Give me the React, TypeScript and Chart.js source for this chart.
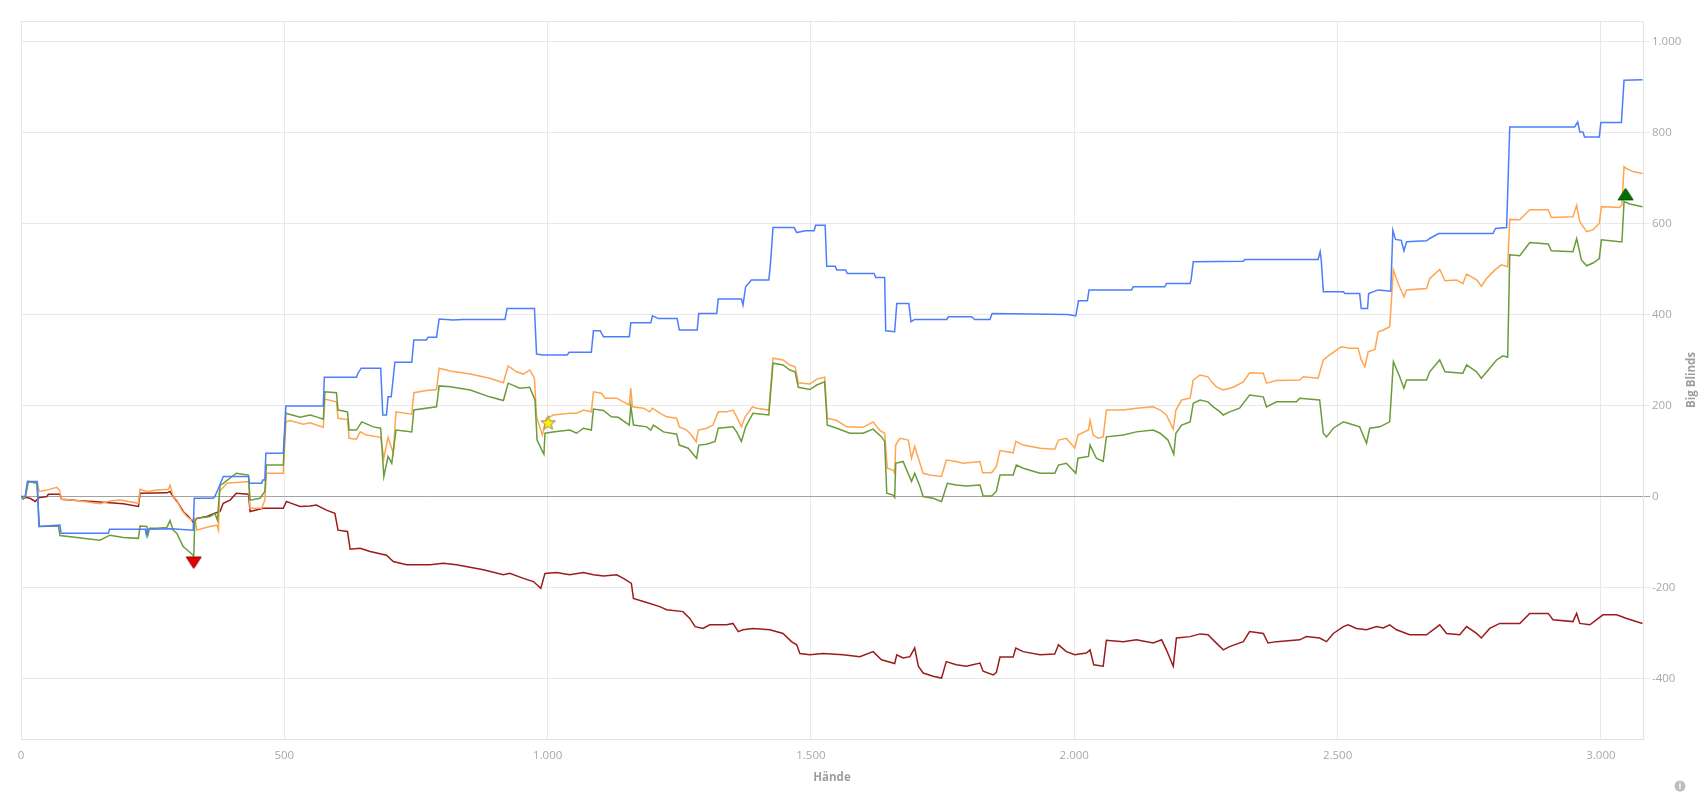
import React, { useEffect, useRef } from 'react';
import { Chart, registerables } from 'chart.js';

Chart.register(...registerables);

type P = [number, number];

const xTicks = [0, 500, 1000, 1500, 2000, 2500, 3000];
const yTicks = [-400, -200, 0, 200, 400, 600, 800, 1000];
const xMin = 0, xMax = 3080, yMin = -533, yMax = 1045;
const xTitle = 'Hände';
const yTitle = 'Big Blinds';

const blueSeries: P[] = [
  [0,0],[8,0],[12,33],[31,33],[34,-66],[74,-63],[76,-81],[166,-81],[168,-72],[236,-72],[238,-84],[240,-72],[286,-71],[327,-74],[329,-4],[365,-4],[368,0],[375,18],[384,44],[432,44],[434,29],[457,29],[459,36],[463,36],[465,95],[498,95],[503,199],
  [574,199],[576,262],[637,262],[640,271],[646,282],[683,282],[687,179],[694,179],[697,219],[703,219],[710,295],[742,295],[746,344],[770,344],[773,350],[789,350],[794,390],[820,388],[840,389],[919,389],[923,413],[975,413],[979,313],[990,311],[1037,311],[1041,317],
  [1083,317],[1087,364],[1100,364],[1106,351],[1155,351],[1158,382],[1196,382],[1199,397],[1210,391],[1246,391],[1250,366],[1284,366],[1287,402],[1321,402],[1324,434],[1368,434],[1371,421],[1376,461],[1387,476],[1420,476],[1423,509],[1428,591],[1468,591],[1473,580],[1489,584],[1506,584],[1509,596],[1527,596],[1530,506],[1546,506],[1549,498],[1566,498],[1569,490],[1620,490],[1623,481],[1640,481],[1642,364],[1659,362],[1663,424],
  [1686,424],[1690,384],[1697,389],[1758,389],[1761,395],[1805,395],[1811,389],[1840,389],[1844,402],[1988,400],[2003,397],[2008,430],[2025,430],[2028,454],[2109,454],[2112,461],[2172,461],[2175,468],[2220,468],[2222,477],[2226,516],[2321,517],
  [2324,521],[2463,521],[2467,538],[2469,520],[2473,450],[2511,450],[2514,446],[2542,446],[2545,413],[2557,413],[2559,446],[2577,454],[2601,451],[2605,585],[2610,565],[2621,563],[2626,540],[2631,560],[2669,562],[2675,567],[2692,578],[2795,578],[2800,589],[2821,591],[2827,812],[2950,812],[2956,823],[2960,801],[2966,801],[2969,790],[2997,790],[3000,822],[3039,822],[3044,915],[3079,916],
];

const orangeSeries: P[] = [
  [0,0],[8,-4],[14,33],[30,30],[35,11],[49,14],[68,20],[73,14],[77,-6],[106,-9],[137,-14],[150,-16],[169,-10],[188,-8],[223,-15],[226,16],[239,11],[258,14],[280,16],[283,25],[289,0],[296,-8],[305,-30],[315,-44],[324,-52],[330,-48],[334,-74],[346,-70],[359,-66],[372,-63],[375,-74],[377,11],[391,29],[432,33],[435,-26],[457,-26],[463,-8],[466,51],[498,51],[503,164],
  [511,167],[536,159],[549,162],[561,157],[574,152],[577,214],[599,208],[602,172],[620,169],[623,128],[637,126],[644,142],[656,135],[683,130],[689,84],[697,130],[707,95],[712,186],[742,181],[746,228],[770,233],[789,235],[794,282],[815,276],[853,269],[890,260],[916,250],[925,287],[941,274],[954,269],[966,278],[975,260],[979,175],[987,146],[990,135],[998,172],[1011,179],[1042,183],
  [1055,183],[1068,190],[1083,186],[1087,230],[1102,227],[1109,216],[1131,216],[1144,208],[1155,201],[1158,238],[1161,197],[1182,194],[1194,186],[1199,194],[1213,183],[1226,175],[1245,172],[1250,153],[1264,146],[1273,135],[1282,120],[1286,146],[1302,150],[1314,157],[1324,186],[1340,186],[1352,190],[1359,175],[1368,153],[1375,175],[1389,197],[1397,194],[1420,190],[1428,304],[1447,300],[1460,289],[1470,285],[1476,250],[1498,247],[1511,258],[1526,262],[1531,172],[1549,167],[1568,153],[1599,152],[1618,164],[1631,145],[1640,139],[1645,62],[1656,58],[1659,51],
  [1661,113],[1669,128],[1685,124],[1691,84],[1697,110],[1707,73],[1713,51],[1726,47],[1748,44],[1757,80],[1776,77],[1789,73],[1821,77],[1826,52],[1843,52],[1852,66],[1859,101],[1884,96],[1889,121],[1903,113],[1935,106],[1963,104],[1970,124],[1985,128],[2001,106],[2007,135],[2027,146],[2030,168],[2036,135],[2045,128],[2055,131],[2061,190],[2093,190],[2118,194],[2150,197],[2163,190],[2175,179],[2188,148],[2193,190],[2204,212],[2220,216],[2226,256],[2239,267],[2254,263],[2261,252],
  [2270,241],[2283,234],[2302,240],[2321,252],[2333,272],[2359,271],[2365,249],[2384,255],[2428,256],[2435,263],[2463,260],[2473,300],[2485,311],[2507,329],[2523,326],[2539,326],[2545,300],[2552,285],[2558,318],[2571,323],[2577,362],[2587,366],[2599,373],[2606,498],[2615,468],[2626,439],[2631,454],[2669,457],[2675,479],[2694,499],[2704,474],[2726,476],[2738,468],[2745,489],[2764,476],[2773,462],[2783,479],[2799,498],[2811,509],[2823,505],[2827,609],[2846,608],[2865,630],[2900,630],[2906,613],[2947,615],[2954,640],[2960,604],[2973,582],[2985,586],[2997,600],[3001,637],[3036,635],[3040,641],[3044,725],[3048,721],[3061,714],[3079,710],
];

const greenSeries: P[] = [
  [0,0],[4,-6],[8,-2],[14,33],[30,29],[35,-66],[71,-65],[74,-86],[106,-90],[150,-96],[169,-85],[194,-90],[223,-92],[226,-65],[239,-66],[241,-85],[244,-70],[258,-70],[277,-68],[283,-53],[289,-74],[296,-81],[302,-96],[308,-110],[321,-123],[326,-128],[328,-132],[330,-55],[334,-48],[359,-44],[368,-37],[373,-52],[378,25],[384,29],[409,51],[432,47],[435,-8],[454,-4],[463,11],[466,69],[498,69],[503,183],[530,174],
  [549,179],[561,175],[574,170],[577,230],[599,228],[602,190],[620,186],[623,146],[637,146],[647,164],[669,153],[683,150],[689,44],[697,88],[704,73],[712,146],[742,142],[746,190],[789,197],[794,243],[815,241],[853,234],[890,219],[916,211],[925,249],[947,238],[966,240],[976,212],[980,124],[989,102],[993,93],[995,139],[1017,143],[1042,146],
  [1055,139],[1068,150],[1083,146],[1087,192],[1106,189],[1121,175],[1134,174],[1150,161],[1155,157],[1158,199],[1163,157],[1188,153],[1196,146],[1201,157],[1220,142],[1245,137],[1250,113],[1267,106],[1280,88],[1283,84],[1287,113],[1302,115],[1318,121],[1324,150],[1352,153],[1359,142],[1368,121],[1376,153],[1390,183],[1420,179],[1428,293],[1447,289],[1460,278],[1470,274],[1476,240],[1498,235],[1511,245],[1526,252],[1531,157],[1549,150],[1574,139],[1599,139],[1618,148],[1634,131],[1640,121],[1644,7],[1656,3],[1659,-2],
  [1661,73],[1675,77],[1691,33],[1697,51],[1707,22],[1713,0],[1732,-4],[1748,-11],[1759,29],[1776,25],[1795,23],[1821,25],[1827,1],[1843,1],[1852,11],[1859,47],[1884,47],[1890,69],[1903,62],[1935,51],[1963,51],[1970,69],[1985,73],[2003,51],[2007,84],[2027,88],[2030,113],[2042,84],[2055,77],[2061,131],[2093,135],[2118,142],[2150,146],[2163,139],[2178,124],[2189,93],[2193,139],[2204,157],[2220,164],[2226,205],[2239,212],[2254,208],[2264,197],[2277,186],
  [2283,179],[2295,186],[2314,194],[2333,223],[2359,219],[2365,197],[2384,208],[2422,208],[2428,216],[2466,212],[2473,139],[2479,131],[2492,150],[2511,164],[2520,161],[2542,153],[2555,117],[2561,150],[2580,153],[2599,164],[2606,296],[2618,263],[2626,238],[2631,256],[2669,256],[2675,274],[2694,300],[2704,274],[2726,272],[2738,271],[2745,289],[2764,274],[2773,260],[2789,282],[2802,300],[2814,309],[2823,306],[2827,531],[2846,529],[2859,549],[2865,558],[2900,555],[2906,540],[2947,538],[2954,567],[2963,520],[2973,507],[2985,513],[2997,523],[3001,564],[3036,560],[3040,560],[3044,648],[3055,643],[3079,637],
];

const redSeries: P[] = [
  [0,0],[17,-4],[27,-11],[33,-3],[49,0],[52,5],[74,5],[77,-6],[106,-9],[137,-11],[169,-14],[194,-16],[223,-22],[226,7],[277,8],[283,11],[289,0],[299,-15],[308,-33],[318,-44],[324,-52],[327,-57],[334,-48],[353,-44],[368,-37],[378,-33],[384,-15],[397,-8],[409,7],[432,5],[435,-33],[460,-26],[498,-26],[504,-11],
  [511,-14],[530,-22],[549,-21],[561,-19],[580,-30],[596,-37],[602,-74],[620,-77],[625,-116],[644,-114],[663,-121],[694,-129],[707,-143],[732,-150],[777,-150],[802,-147],[827,-150],[878,-161],[916,-172],[928,-169],[954,-180],[973,-187],[987,-202],[995,-169],[1017,-167],[1042,-172],
  [1068,-167],[1087,-172],[1106,-175],[1131,-172],[1144,-180],[1159,-191],[1163,-224],[1188,-233],[1213,-242],[1226,-249],[1257,-253],[1270,-268],[1280,-286],[1295,-290],[1308,-282],[1340,-282],[1352,-279],[1362,-297],[1371,-293],[1390,-290],[1422,-293],[1447,-301],[1463,-319],[1473,-326],[1479,-345],[1498,-348],[1523,-345],[1561,-348],[1593,-352],[1618,-341],[1634,-359],[1659,-367],
  [1663,-348],[1675,-355],[1688,-352],[1697,-333],[1704,-373],[1713,-388],[1732,-395],[1748,-399],[1757,-363],[1776,-370],[1795,-373],[1821,-366],[1827,-384],[1846,-392],[1852,-387],[1859,-353],[1884,-353],[1889,-333],[1903,-341],[1935,-348],[1963,-346],[1970,-326],[1985,-341],[2001,-348],[2023,-344],[2030,-337],[2037,-370],[2055,-373],[2061,-316],[2093,-319],[2118,-315],[2150,-322],[2166,-315],[2175,-337],[2188,-373],[2194,-311],[2220,-308],[2239,-302],[2254,-304],[2267,-319],
  [2283,-337],[2295,-330],[2321,-319],[2333,-297],[2359,-301],[2368,-322],[2384,-319],[2428,-315],[2441,-308],[2466,-311],[2479,-319],[2492,-301],[2511,-286],[2520,-282],[2536,-290],[2555,-293],[2574,-286],[2587,-289],[2599,-282],[2612,-293],[2637,-304],[2669,-304],[2694,-282],[2707,-301],[2732,-304],[2745,-286],[2764,-301],[2773,-311],[2789,-290],[2808,-279],[2846,-279],[2865,-257],[2900,-257],[2909,-271],[2947,-275],[2954,-257],[2960,-279],[2979,-282],[3004,-260],[3030,-260],[3049,-268],[3079,-279],
];

const lowMarker: P[] = [[328, -145]];
const starMarker: P[] = [[1001, 162]];
const highMarker: P[] = [[3047, 664]];

const toXY = (arr: P[]) => arr.map(([x, y]) => ({ x, y }));

function fmt(v: number): string {
  const neg = v < 0;
  const s = String(Math.abs(Math.round(v)));
  const out = s.replace(/\B(?=(\d{3})+(?!\d))/g, '.');
  return (neg ? '-' : '') + out;
}

function makeTriangle(fill: string, stroke: string, down: boolean): HTMLCanvasElement {
  const c = document.createElement('canvas');
  c.width = 17;
  c.height = 14;
  const g = c.getContext('2d')!;
  g.beginPath();
  if (down) {
    g.moveTo(1, 1.5); g.lineTo(16, 1.5); g.lineTo(8.5, 13);
  } else {
    g.moveTo(1, 12.5); g.lineTo(16, 12.5); g.lineTo(8.5, 1);
  }
  g.closePath();
  g.fillStyle = fill;
  g.fill();
  g.lineWidth = 1;
  g.strokeStyle = stroke;
  g.stroke();
  return c;
}

function makeStar(): HTMLCanvasElement {
  const c = document.createElement('canvas');
  c.width = 17;
  c.height = 17;
  const g = c.getContext('2d')!;
  const cx = 8.5, cy = 9, R = 7.5, r = 3.2;
  g.beginPath();
  for (let i = 0; i < 10; i++) {
    const a = -Math.PI / 2 + (i * Math.PI) / 5;
    const rad = i % 2 === 0 ? R : r;
    const px = cx + rad * Math.cos(a);
    const py = cy + rad * Math.sin(a);
    if (i === 0) g.moveTo(px, py); else g.lineTo(px, py);
  }
  g.closePath();
  g.fillStyle = '#fff200';
  g.fill();
  g.lineWidth = 1;
  g.strokeStyle = '#8a8a60';
  g.stroke();
  return c;
}

const FONT = '"Open Sans", "Noto Sans", sans-serif';

const decorPlugin = {
  id: 'decor',
  beforeDatasetsDraw(chart: any) {
    const { ctx, chartArea } = chart;
    const { left, top, right, bottom } = chartArea;
    ctx.save();
    ctx.strokeStyle = '#e6e6e6';
    ctx.lineWidth = 1;
    ctx.beginPath();
    ctx.moveTo(Math.round(left) + 0.5, Math.round(bottom));
    ctx.lineTo(Math.round(left) + 0.5, Math.round(top) + 0.5);
    ctx.lineTo(Math.round(right), Math.round(top) + 0.5);
    ctx.stroke();
    ctx.restore();
  },
  afterDraw(chart: any) {
    const { ctx, chartArea } = chart;
    const { left, top, right, bottom } = chartArea;
    ctx.save();
    ctx.fillStyle = '#9e9e9e';
    ctx.font = `bold 11.5px ${FONT}`;
    ctx.textAlign = 'center';
    ctx.textBaseline = 'middle';
    ctx.fillText(xTitle, (left + right) / 2, 778);
    ctx.translate(1692, (top + bottom) / 2);
    ctx.rotate(-Math.PI / 2);
    ctx.fillText(yTitle, 0, 0);
    ctx.restore();
    // info icon
    ctx.save();
    ctx.beginPath();
    ctx.arc(1680, 786, 5.5, 0, Math.PI * 2);
    ctx.fillStyle = '#bdbdbd';
    ctx.fill();
    ctx.fillStyle = '#ffffff';
    ctx.font = `bold 8px ${FONT}`;
    ctx.textAlign = 'center';
    ctx.textBaseline = 'middle';
    ctx.fillText('i', 1680, 786.5);
    ctx.restore();
  },
};

export default function App() {
  const ref = useRef<HTMLCanvasElement | null>(null);

  useEffect(() => {
    if (!ref.current) return;
    const redTri = makeTriangle('#e00000', '#a00000', true);
    const greenTri = makeTriangle('#007000', '#004d00', false);
    const star = makeStar();

    const lineDs = (label: string, data: P[], color: string, order: number) => ({
      label,
      data: toXY(data),
      borderColor: color,
      backgroundColor: color,
      borderWidth: 1.5,
      pointRadius: 0,
      pointHoverRadius: 0,
      tension: 0,
      fill: false,
      order,
    });
    const markerDs = (label: string, data: P[], img: HTMLCanvasElement) => ({
      label,
      data: toXY(data),
      showLine: false,
      pointStyle: img,
      pointRadius: 8,
      pointHoverRadius: 8,
      order: 0,
    });

    const chart = new Chart(ref.current, {
      type: 'line',
      data: {
        datasets: [
          markerDs('low', lowMarker, redTri),
          markerDs('star', starMarker, star),
          markerDs('high', highMarker, greenTri),
          lineDs('blue', blueSeries, '#4d7cff', 1),
          lineDs('green', greenSeries, '#6a9c3a', 2),
          lineDs('orange', orangeSeries, '#ffa54f', 3),
          lineDs('red', redSeries, '#9b1c1c', 4),
        ] as any,
      },
      options: {
        animation: false,
        responsive: false,
        devicePixelRatio: 1,
        layout: { padding: { left: 21, top: 21, right: 0, bottom: 0 } },
        plugins: {
          legend: { display: false },
          tooltip: { enabled: false },
        },
        events: [],
        scales: {
          x: {
            type: 'linear',
            min: xMin,
            max: xMax,
            afterBuildTicks: (s: any) => {
              s.ticks = xTicks.map((v) => ({ value: v }));
            },
            afterFit: (s: any) => {
              s.height = 57;
            },
            grid: { color: '#e8e8e8', drawTicks: false, lineWidth: 1 },
            border: { display: true, color: '#e3e3e3' },
            ticks: {
              padding: 10,
              color: '#a8a8a8',
              font: { family: FONT, size: 11.5 },
              maxRotation: 0,
              callback: (v: any) => fmt(Number(v)),
            },
          },
          y: {
            type: 'linear',
            position: 'right',
            min: yMin,
            max: yMax,
            afterBuildTicks: (s: any) => {
              s.ticks = yTicks.map((v) => ({ value: v }));
            },
            afterFit: (s: any) => {
              s.width = 63;
            },
            grid: {
              color: (c: any) => (c.tick && c.tick.value === 0 ? '#a3a3a3' : '#e8e8e8'),
              drawTicks: true,
              tickLength: 7,
              lineWidth: 1,
            },
            border: { display: true, color: '#e3e3e3' },
            ticks: {
              padding: 2,
              color: '#a8a8a8',
              font: { family: FONT, size: 11.5 },
              callback: (v: any) => fmt(Number(v)),
            },
          },
        },
      } as any,
      plugins: [decorPlugin],
    });
    return () => chart.destroy();
  }, []);

  return (
    <div style={{ position: 'absolute', left: 0, top: 0, width: 1706, height: 796, background: '#ffffff' }}>
      <canvas ref={ref} width={1706} height={796} style={{ display: 'block', width: 1706, height: 796 }} />
    </div>
  );
}
